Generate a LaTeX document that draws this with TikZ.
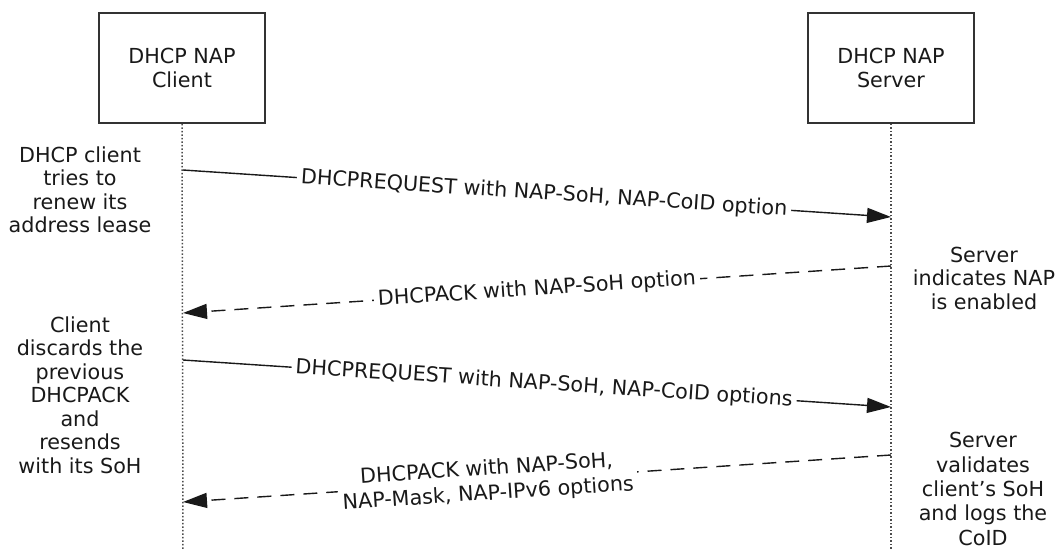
\documentclass[tikz,border=0pt]{standalone}
\usepackage{fontspec}
\setmainfont{DejaVu Sans}
\usetikzlibrary{arrows.meta}
\begin{document}
\begin{tikzpicture}[x=1pt,y=-1pt,
  every node/.style={font=\fontsize{20.7}{23.5}\selectfont, text=black!90},
  actor/.style={draw=black!80, line width=1.6pt, minimum width=166pt, minimum height=110pt, align=center, inner sep=0pt},
  lifeline/.style={draw=black!70, line width=1.5pt, dotted},
  msg/.style={line width=1.4pt, draw=black!90, -{Triangle[length=24pt,width=15pt]}},
  reply/.style={msg, dash pattern=on 14pt off 9pt},
  lbl/.style={sloped, fill=white, inner sep=4pt, align=center},
  note/.style={align=center, inner sep=0pt}]
\useasboundingbox (0,0) rectangle (1060,550);
\node[actor] (cl) at (182,68) {DHCP NAP\\Client};
\node[actor] (sv) at (891,68) {DHCP NAP\\Server};
\coordinate (clend) at (183,550);
\coordinate (svend) at (891,550);
\draw[lifeline] (cl.south) -- (clend);
\draw[lifeline] (sv.south) -- (svend);
\coordinate (c1) at (183,170);
\coordinate (s1) at (891,217);
\coordinate (s2) at (891,266);
\coordinate (c2) at (183,313);
\coordinate (c3) at (183,360);
\coordinate (s3) at (891,407);
\coordinate (s4) at (891,455);
\coordinate (c4) at (183,502);
\draw[msg] (c1) -- node[lbl, pos=0.51] (m1) {DHCPREQUEST with NAP-SoH, NAP-CoID option} (s1);
\draw[reply] (s2) -- node[lbl, pos=0.5] (m2) {DHCPACK with NAP-SoH option} (c2);
\draw[msg] (c3) -- node[lbl, pos=0.51] (m3) {DHCPREQUEST with NAP-SoH, NAP-CoID options} (s3);
\draw[reply] (s4) -- node[lbl, pos=0.57, inner ysep=2pt, font=\fontsize{20.7}{25}\selectfont] (m4) {DHCPACK with NAP-SoH,\\NAP-Mask, NAP-IPv6 options} (c4);
\node[note] (n1) at (80,190) {DHCP client\\tries to\\renew its\\address lease};
\node[note] (n2) at (80,395) {Client\\discards the\\previous\\DHCPACK\\and\\resends\\with its SoH};
\node[note] (n3) at (984,278) {Server\\indicates NAP\\is enabled};
\node[note, font=\fontsize{20.7}{24.3}\selectfont] (n4) at (983,489) {Server\\validates\\client's SoH\\and logs the\\CoID};
\end{tikzpicture}
\end{document}
